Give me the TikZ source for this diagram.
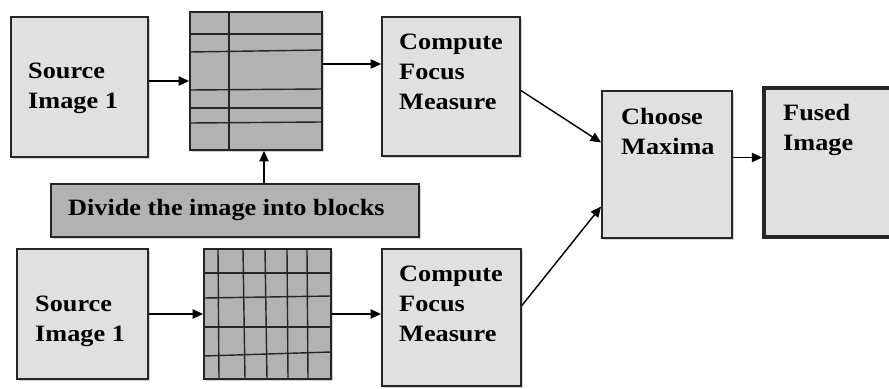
\documentclass[tikz,border=0pt]{standalone}
\usepackage{fontspec}
\setmainfont{Liberation Serif}[FakeStretch=1.12]
\usepackage{xcolor}
\usetikzlibrary{shapes,arrows.meta,positioning,calc,shadows}

\begin{document}
\begin{tikzpicture}[
    x=0.03cm, y=-0.03cm,
    block/.style={rectangle, draw=black!85, line width=1.6pt, fill=black!12, drop shadow={shadow xshift=2pt, shadow yshift=-2pt, opacity=0.35}},
    blockgrid/.style={rectangle, draw=black!85, line width=1.6pt, fill=black!30, drop shadow={shadow xshift=2pt, shadow yshift=-2pt, opacity=0.35}},
    gridline/.style={draw=black!85, line width=1.2pt},
    boxtext/.style={anchor=west, inner sep=0pt, align=left, font=\fontsize{20}{25.6}\selectfont\bfseries},
    arrow/.style={line width=1.2pt, -{Triangle[length=9pt, width=8pt]}}
]
\clip (0,0) rectangle (889,389);

% Processing boxes
\node[block, minimum width=137*0.03cm, minimum height=140*0.03cm] (src1) at (79.5,87) {};
\node[block, minimum width=138*0.03cm, minimum height=139*0.03cm] (comp1) at (451,86.5) {};
\node[block, minimum width=131*0.03cm, minimum height=130*0.03cm] (src2) at (82.5,314) {};
\node[block, minimum width=139*0.03cm, minimum height=137*0.03cm] (comp2) at (451.5,317.5) {};
\node[block, minimum width=130*0.03cm, minimum height=147*0.03cm] (choose) at (667,164.5) {};
\node[block, line width=2.8pt, minimum width=131*0.03cm, minimum height=149*0.03cm] (fused) at (829.5,162.5) {};
\node[blockgrid, minimum width=368*0.03cm, minimum height=53*0.03cm] (divide) at (235,210.5) {};

% Block partitions
\node[blockgrid, minimum width=132*0.03cm, minimum height=138*0.03cm] (grid1) at (256,81) {};
\node[blockgrid, minimum width=127*0.03cm, minimum height=130*0.03cm] (grid2) at (267.5,314) {};

\draw[gridline] (229,12) -- (229,150);
\draw[gridline] (190,34) -- (322,34);
\draw[gridline] (190,52) -- (322,50);
\draw[gridline] (190,90) -- (322,89);
\draw[gridline] (190,108) -- (322,108);
\draw[gridline] (190,123) -- (322,122);

\draw[gridline] (218,249) -- (219,379);
\draw[gridline] (243,249) -- (245,379);
\draw[gridline] (265,249) -- (267,379);
\draw[gridline] (287,249) -- (288,379);
\draw[gridline] (307,249) -- (308,379);
\draw[gridline] (204,273) -- (331,273);
\draw[gridline] (204,298) -- (331,296);
\draw[gridline] (204,327) -- (331,327);
\draw[gridline] (204,356) -- (331,352);

% Box texts
\node[boxtext] (src1_text) at (28,88) {Source\\Image 1};
\node[boxtext] (comp1_text) at (399,72) {Compute\\Focus\\Measure};
\node[boxtext] (divide_text) at (68,210) {Divide the image into blocks};
\node[boxtext] (src2_text) at (35,321) {Source\\Image 1};
\node[boxtext] (comp2_text) at (399,304) {Compute\\Focus\\Measure};
\node[boxtext] (choose_text) at (621,131) {Choose\\Maxima};
\node[boxtext] (fused_text) at (783,130) {Fused\\Image};

% Arrows
\draw[arrow] (src1.east |- grid1.west) -- (grid1.west);
\draw[arrow] ($(grid1.east)+(0,-17)$) coordinate (g1out) -- (comp1.west |- g1out);
\draw[arrow] ($(divide.north)+(29,0)$) coordinate (divout) -- (grid1.south -| divout);
\draw[arrow] (src2) -- (grid2);
\draw[arrow] (grid2.east) -- (comp2.west |- grid2.east);
\draw[arrow] ($(comp1.east)+(0,4)$) -- ($(choose.west)+(0,-22)$);
\draw[arrow] ($(comp2.east)+(0,-12)$) -- ($(choose.west)+(0,42)$);
\draw[arrow] ($(choose.east)+(0,-7)$) coordinate (chout) -- (fused.west |- chout);

\end{tikzpicture}
\end{document}
